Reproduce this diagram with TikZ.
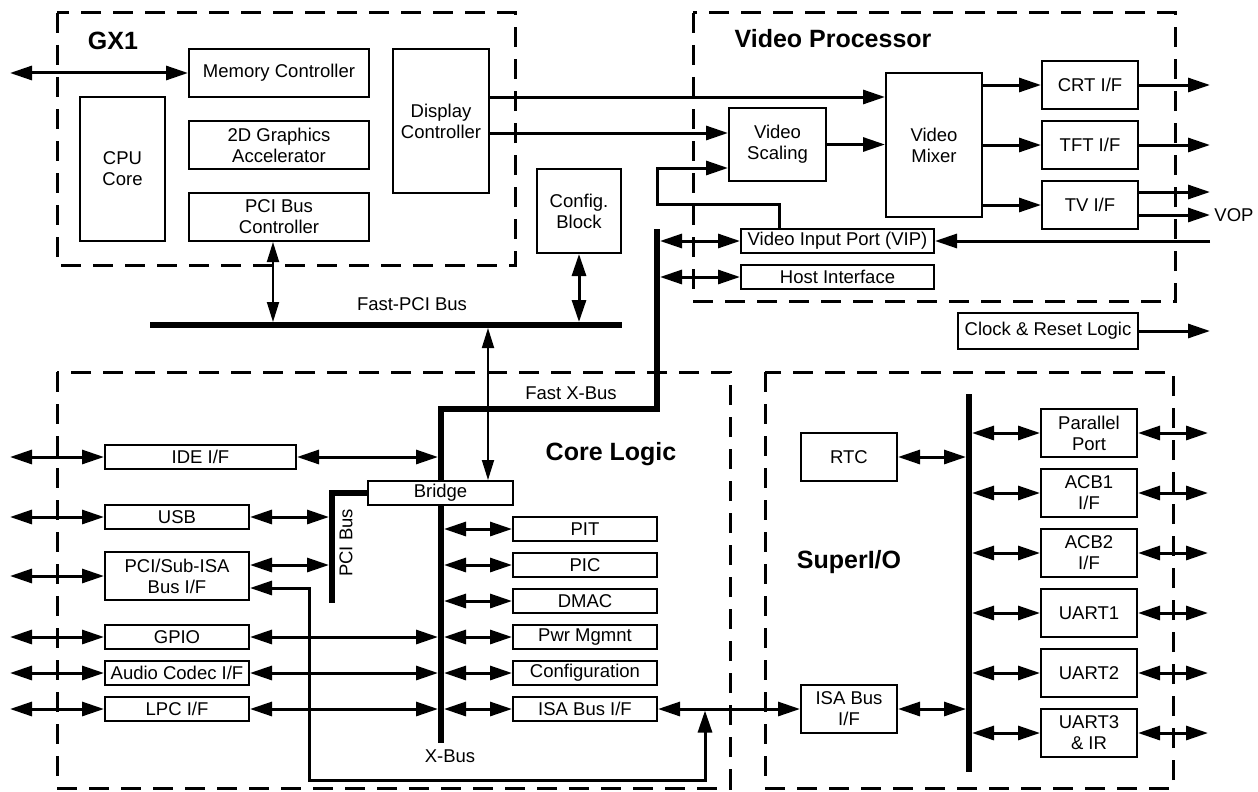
\documentclass[tikz,border=0pt]{standalone}
\usepackage{fontspec}
\setmainfont{Liberation Sans}
\usetikzlibrary{arrows.meta,backgrounds}
\begin{document}
\begin{tikzpicture}[x=1pt,y=-1pt,
  >={Triangle[length=22pt,width=14pt]},
  box/.style={draw, fill=white, line width=2pt, inner sep=0pt, align=center, font=\fontsize{18.5}{21}\selectfont},
  dbox/.style={draw, line width=3pt, dash pattern=on 20pt off 12pt},
  conn/.style={line width=3pt},
  thin/.style={line width=1.8pt, >={Triangle[length=20pt,width=12pt]}},
  bus/.style={line width=6.5pt, line join=miter},
  lbl/.style={font=\fontsize{18.5}{21}\selectfont, inner sep=0pt},
  ttl/.style={font=\fontsize{25}{28}\selectfont\bfseries, inner sep=0pt}
]
\useasboundingbox (0,0) rectangle (1258,792);

% dashed group frames
\draw[dbox] (57,13) rectangle (515,265);
\draw[dbox] (693,13) rectangle (1175,301);
\draw[dbox] (57,372) rectangle (730,788);
\draw[dbox] (765,372) rectangle (1173,788);

% titles
\node[ttl] (tgx) at (113,41) {GX1};
\node[ttl] (tvp) at (833,39) {Video Processor};
\node[ttl] (tcl) at (611,454) {Core Logic};
\node[ttl] (tsio) at (849,562) {SuperI/O};

% GX1 boxes
\node[box, minimum width=180pt, minimum height=48pt] (mem) at (279,73) {Memory Controller};
\node[box, minimum width=85pt, minimum height=144pt] (cpu) at (122.5,169) {CPU\\Core};
\node[box, minimum width=180pt, minimum height=48pt] (gfx) at (279,145) {2D Graphics\\Accelerator};
\node[box, minimum width=180pt, minimum height=48pt] (pcic) at (279,217) {PCI Bus\\Controller};
\node[box, minimum width=96pt, minimum height=144pt] (disp) at (441,121) {Display\\Controller};
\node[box, minimum width=84pt, minimum height=84pt] (cfg) at (579,211) {Config.\\Block};

% Video processor boxes
\node[box, minimum width=97pt, minimum height=73pt] (vscal) at (777.5,144.5) {Video\\Scaling};
\node[box, minimum width=96pt, minimum height=144pt] (vmix) at (934,145) {Video\\Mixer};
\node[box, minimum width=96pt, minimum height=48pt] (crt) at (1090,85) {CRT I/F};
\node[box, minimum width=96pt, minimum height=48pt] (tft) at (1090,145) {TFT I/F};
\node[box, minimum width=96pt, minimum height=48pt] (tv) at (1090,205) {TV I/F};
\node[box, minimum width=193pt, minimum height=24pt] (vip) at (837.5,241) {Video Input Port (VIP)};
\node[box, minimum width=193pt, minimum height=24pt] (host) at (837.5,277) {Host Interface};
\node[box, minimum width=180pt, minimum height=36pt] (clk) at (1048,331) {Clock \& Reset Logic};

% Core logic boxes
\node[box, minimum width=191pt, minimum height=24pt] (ide) at (200.5,457) {IDE I/F};
\node[box, minimum width=144pt, minimum height=24pt] (usb) at (177,517) {USB};
\node[box, minimum width=144pt, minimum height=48pt] (psub) at (177,576) {PCI/Sub-ISA\\Bus I/F};
\node[box, minimum width=144pt, minimum height=24pt] (gpio) at (177,637) {GPIO};
\node[box, minimum width=144pt, minimum height=24pt] (audio) at (177,673) {Audio Codec I/F};
\node[box, minimum width=144pt, minimum height=24pt] (lpc) at (177,709) {LPC I/F};
\node[box, minimum width=145pt, minimum height=24pt] (bridge) at (440.5,493) {Bridge};
\node[box, minimum width=144pt, minimum height=24pt] (pit) at (585,529) {PIT};
\node[box, minimum width=144pt, minimum height=24pt] (pic) at (585,565) {PIC};
\node[box, minimum width=144pt, minimum height=24pt] (dmac) at (585,601) {DMAC};
\node[box, minimum width=144pt, minimum height=24pt] (pwr) at (585,637) {Pwr Mgmnt};
\node[box, minimum width=144pt, minimum height=24pt] (conf) at (585,673) {Configuration};
\node[box, minimum width=144pt, minimum height=24pt] (isa) at (585,709) {ISA Bus I/F};

% SuperI/O boxes
\node[box, minimum width=96pt, minimum height=48pt] (rtc) at (849,457) {RTC};
\node[box, minimum width=96pt, minimum height=48pt] (sisa) at (849,709) {ISA Bus\\I/F};
\node[box, minimum width=96pt, minimum height=48pt] (par) at (1089,433) {Parallel\\Port};
\node[box, minimum width=96pt, minimum height=48pt] (acb1) at (1089,493) {ACB1\\I/F};
\node[box, minimum width=96pt, minimum height=48pt] (acb2) at (1089,553) {ACB2\\I/F};
\node[box, minimum width=96pt, minimum height=48pt] (u1) at (1089,613) {UART1};
\node[box, minimum width=96pt, minimum height=48pt] (u2) at (1089,673) {UART2};
\node[box, minimum width=96pt, minimum height=48pt] (u3) at (1089,733) {UART3\\\& IR};

% bus coordinates
\coordinate (fpciL) at (150,325);
\coordinate (fpciR) at (622,325);
\coordinate (fxTop) at (657,229);
\coordinate (fxA) at (657,409);
\coordinate (fxB) at (441,409);
\coordinate (xbBot) at (441,743);
\coordinate (pciA) at (332,493);
\coordinate (pciBot) at (332,603);
\coordinate (sioTop) at (969,394);
\coordinate (sioBot) at (969,772);

% buses (behind the boxes)
\begin{pgfonlayer}{background}
\draw[bus] (fpciL) -- (fpciR);
\draw[bus] (fxTop) -- (fxA) -- (fxB) -- (xbBot);
\draw[bus] (bridge.west) -- (pciA) -- (pciBot);
\draw[bus] (sioTop) -- (sioBot);
\end{pgfonlayer}

% bus labels
\node[lbl] (lfpci) at (412,304) {Fast-PCI Bus};
\node[lbl] (lfx) at (571,393) {Fast X-Bus};
\node[lbl] (lxb) at (450,756) {X-Bus};
\node[lbl, rotate=90] (lpci) at (346,543) {PCI Bus};
\node[lbl] (lvop) at (1234,215) {VOP};

% free ends
\coordinate (memL) at (10,73);
\coordinate (pcicB) at (273,322);
\coordinate (cfgB) at (579,322);
\coordinate (brT) at (488,328);

% GX1 connectors
\draw[conn,<->] (memL) -- (mem.west);
\draw[thin,<->] (pcic.south -| pcicB) -- (pcicB);
\draw[conn,<->] (cfg.south) -- (cfgB);
\draw[thin,<->] (brT) -- (bridge.north -| brT);
\draw[conn,->] (disp.east |- 0,97) -- (vmix.west |- 0,97);
\draw[conn,->] (disp.east |- 0,133) -- (vscal.west |- 0,133);

% video processor connectors
\draw[conn,->] (vscal.east) -- (vmix.west |- vscal.east);
\draw[conn,->] (vmix.east |- crt.west) -- (crt.west);
\draw[conn,->] (vmix.east |- tft.west) -- (tft.west);
\draw[conn,->] (vmix.east |- tv.west) -- (tv.west);
\coordinate (crtO) at (1210,85);
\coordinate (tftO) at (1210,145);
\coordinate (tvO1) at (1210,192);
\coordinate (tvO2) at (1210,215);
\coordinate (vipI) at (1210,241);
\coordinate (clkO) at (1210,331);
\draw[conn,->] (crt.east) -- (crtO);
\draw[conn,->] (tft.east) -- (tftO);
\draw[conn,->] (tv.east |- tvO1) -- (tvO1);
\draw[conn,->] (tv.east |- tvO2) -- (tvO2);
\draw[conn,->] (vipI) -- (vip.east);
\draw[conn,->] (clk.east) -- (clkO);
\draw[conn,->] (vip.north -| 779,0) -- (779,204) -- (657,204) -- (657,168) -- (vscal.west |- 0,168);
\draw[conn,<->] (660,241) -- (vip.west);
\draw[conn,<->] (660,277) -- (host.west);

% core logic connectors (left)
\foreach \n/\y in {ide/457, usb/517, psub/576, gpio/637, audio/673, lpc/709}
  \draw[conn,<->] (10,\y) -- (\n.west);
\draw[conn,<->] (ide.east) -- (438,457);
\draw[conn,<->] (usb.east) -- (329,517);
\draw[conn,<->] (psub.east |- 0,565) -- (329,565);
\draw[conn,<->] (gpio.east) -- (438,637);
\draw[conn,<->] (audio.east) -- (438,673);
\draw[conn,<->] (lpc.east) -- (438,709);
\draw[conn,<->] (psub.east |- 0,588) -- (309,588) -- (309,780) -- (705,780) -- (705,710.5);

% core logic connectors (right)
\foreach \n in {pit, pic, dmac, pwr, conf, isa}
  \draw[conn,<->] (444,0 |- \n.west) -- (\n.west);
\draw[conn,<->] (isa.east) -- (sisa.west);

% SuperI/O connectors
\draw[conn,<->] (rtc.east) -- (966,457);
\draw[conn,<->] (sisa.east) -- (966,709);
\foreach \n in {par, acb1, acb2, u1, u2, u3} {
  \draw[conn,<->] (972,0 |- \n.west) -- (\n.west);
  \draw[conn,<->] (\n.east) -- (1208,0 |- \n.east);
}
\end{tikzpicture}
\end{document}
